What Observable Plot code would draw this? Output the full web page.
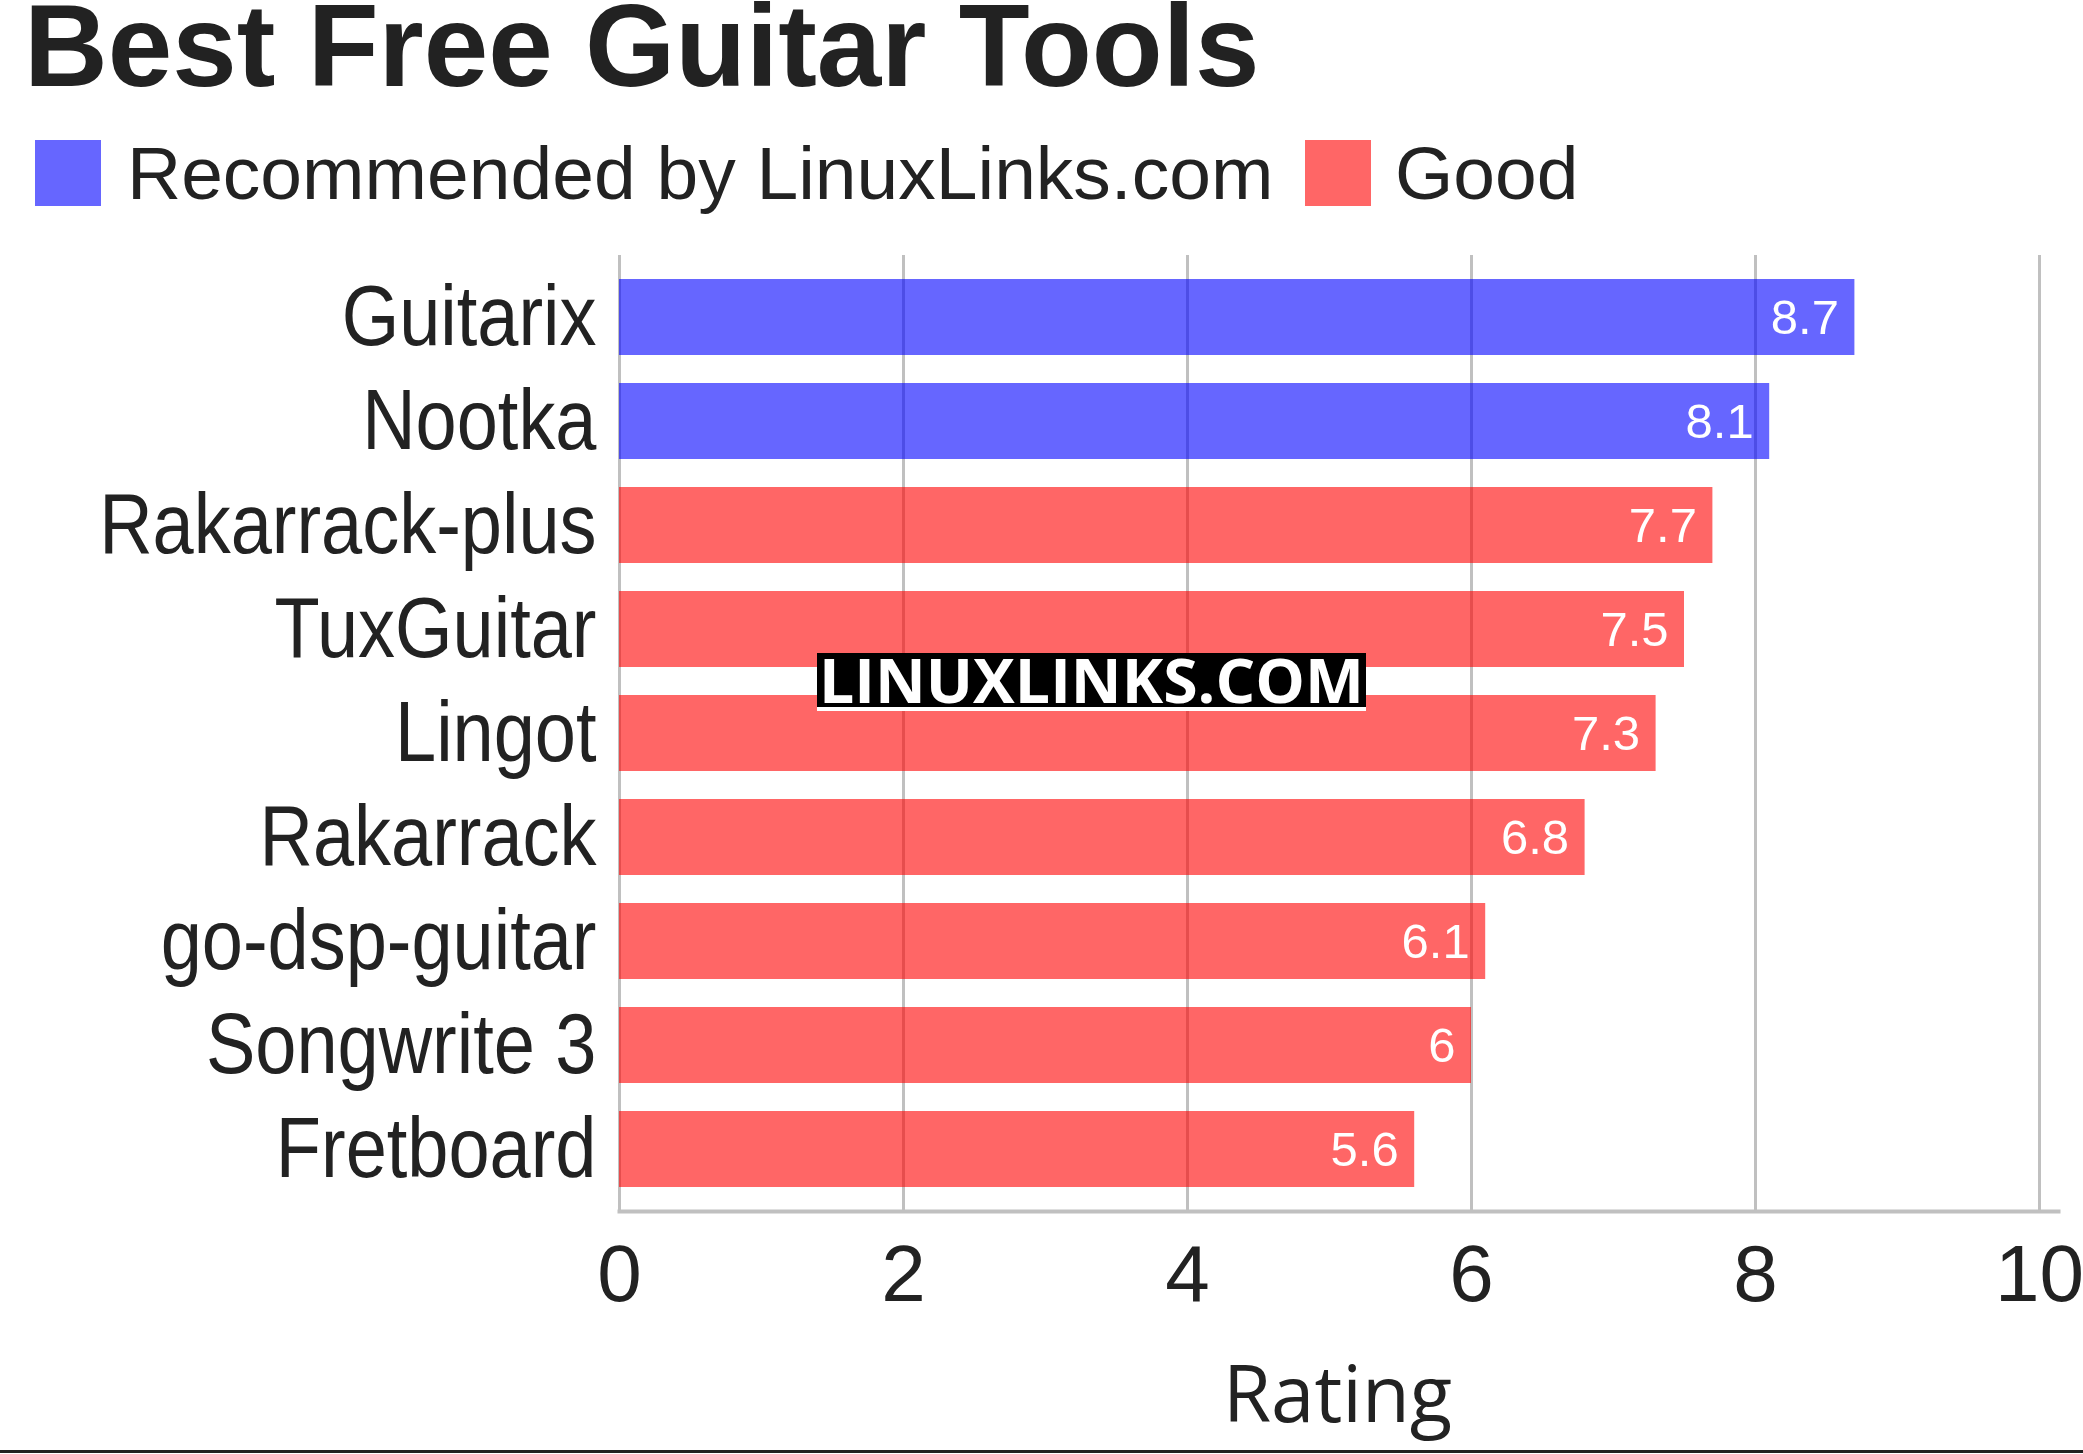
<!DOCTYPE html>
<html>
<head>
<meta charset="utf-8">
<script src="https://cdn.jsdelivr.net/npm/d3@7"></script>
<script src="https://cdn.jsdelivr.net/npm/@observablehq/plot@0.6"></script>
<style>
  html, body { margin: 0; padding: 0; background: #fff; }
  body { width: 2083px; height: 1454px; position: relative; overflow: hidden; font-family: "Liberation Sans", Arial, sans-serif; color: #222; }
  #title { position: absolute; left: 24px; top: 1px; font-size: 116px; font-weight: 700; line-height: 0.79; white-space: nowrap; }
  .lg-sw { position: absolute; top: 140px; width: 66px; height: 66px; }
  .lg-tx { position: absolute; top: 136px; font-size: 75px; line-height: 1; white-space: nowrap; }
  #chart { position: absolute; left: 0; top: 230px; }
  #wm { position: absolute; left: 817px; top: 653px; width: 549px; height: 54px; background: #000; border-bottom: 4px solid #fff; }
  #wm span { position: absolute; left: 0; top: 50%; color: #fff; font-family: "Open Sans", "Noto Sans", sans-serif; font-weight: 700; font-size: 60px; line-height: 1.2; white-space: nowrap; transform-origin: 0 50%; }
  #bottomline { position: absolute; left: 0; top: 1450px; width: 2083px; height: 3px; background: #222; }
</style>
</head>
<body>
<div id="title"></div>
<div id="legend"></div>
<div id="chart"></div>
<div id="wm"><span>LINUXLINKS.COM</span></div>
<div id="bottomline"></div>
<script>
const titleText = "Best Free Guitar Tools";
const tools = ["Guitarix", "Nootka", "Rakarrack-plus", "TuxGuitar", "Lingot", "Rakarrack", "go-dsp-guitar", "Songwrite 3", "Fretboard"];
const ratings = [8.7, 8.1, 7.7, 7.5, 7.3, 6.8, 6.1, 6, 5.6];
const groups = ["Recommended by LinuxLinks.com", "Recommended by LinuxLinks.com", "Good", "Good", "Good", "Good", "Good", "Good", "Good"];
const seriesNames = ["Recommended by LinuxLinks.com", "Good"];
const seriesColors = ["#0000ff", "#ff0000"];
const xTicks = [0, 2, 4, 6, 8, 10];
const xLabel = "Rating";

document.getElementById("title").textContent = titleText;

// legend
const legend = document.getElementById("legend");
const legendPos = [{sw: 35, tx: 127}, {sw: 1305, tx: 1395}];
seriesNames.forEach((name, i) => {
  const sw = document.createElement("div");
  sw.className = "lg-sw";
  sw.style.left = legendPos[i].sw + "px";
  sw.style.background = seriesColors[i];
  sw.style.opacity = 0.6;
  legend.appendChild(sw);
  const tx = document.createElement("div");
  tx.className = "lg-tx";
  tx.style.left = legendPos[i].tx + "px";
  tx.textContent = name;
  legend.appendChild(tx);
});

const data = tools.map((t, i) => ({tool: t, rating: ratings[i], group: groups[i]}));

const chart = Plot.plot({
  width: 2083,
  height: 1218,
  marginLeft: 619,
  marginRight: 44,
  marginTop: 25,
  marginBottom: 237,
  style: {fontFamily: "'Liberation Sans', Arial, sans-serif", color: "#222", background: "transparent", overflow: "visible"},
  x: {domain: [0, 10], ticks: xTicks, label: null},
  y: {domain: tools, paddingInner: 0.27, paddingOuter: 0.23, label: null},
  color: {domain: seriesNames, range: seriesColors},
  marks: [
    Plot.ruleX(xTicks, {stroke: "#c0c0c0", strokeWidth: 3}),
    Plot.barX(data, {x: "rating", y: "tool", fill: "group", fillOpacity: 0.6}),
    Plot.frame({anchor: "bottom", stroke: "#c0c0c0", strokeWidth: 4, insetRight: -19}),
    Plot.text(data, {x: "rating", y: "tool", text: d => String(d.rating), textAnchor: "end", dx: -16, dy: 1, fill: "white", fontSize: 49}),
    Plot.axisX({ticks: xTicks, tickSize: 0, tickPadding: 33, fontSize: 80, label: null}),
    Plot.text([xLabel], {frameAnchor: "bottom", lineAnchor: "middle", dx: 8, dy: 186, fontSize: 78, fontFamily: "'Open Sans', 'Noto Sans', sans-serif", fill: "#222"}),
    Plot.axisY({tickSize: 0, tickPadding: 23, fontSize: 86, label: null})
  ]
});
document.getElementById("chart").appendChild(chart);

// condense the category labels to match the reference's narrow lettering
chart.querySelectorAll('g[aria-label="y-axis tick label"] text').forEach(el => {
  const L = el.getComputedTextLength();
  el.setAttribute("textLength", (L * 0.86).toFixed(1));
  el.setAttribute("lengthAdjust", "spacingAndGlyphs");
});

// fit watermark text to its box
const wmBox = document.getElementById("wm");
const wmSpan = wmBox.querySelector("span");
const w = wmSpan.getBoundingClientRect().width;
const sx = (wmBox.clientWidth - 4) / w;
wmSpan.style.left = "2px";
wmSpan.style.transform = `translateY(-50%) scaleX(${sx})`;
</script>
</body>
</html>
